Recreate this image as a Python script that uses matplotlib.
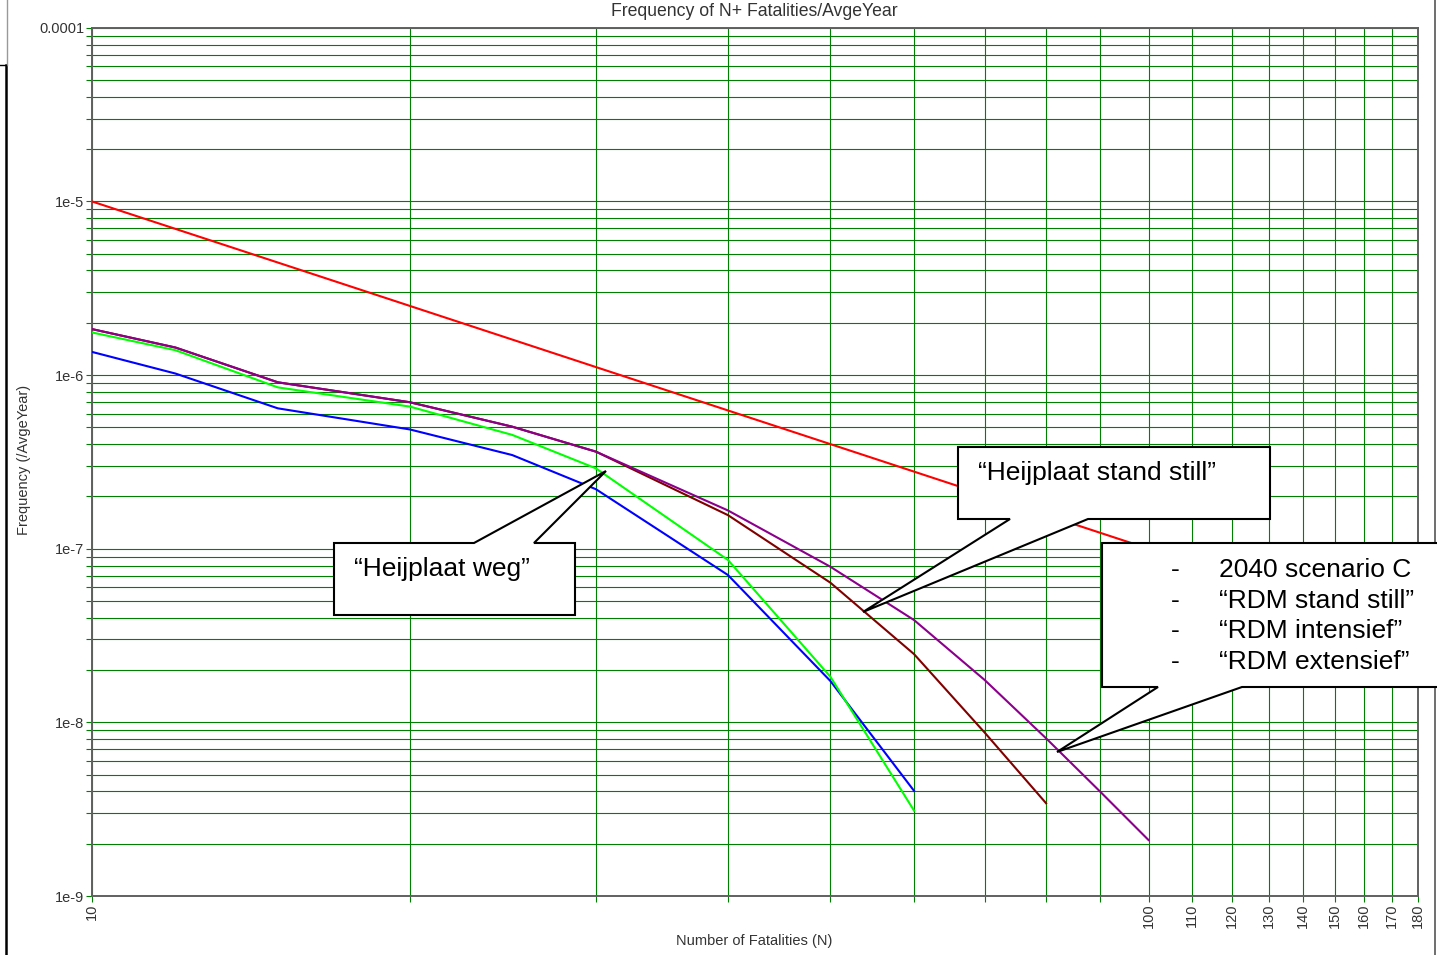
import numpy as np
import matplotlib
matplotlib.use("Agg")
import matplotlib.pyplot as plt
from matplotlib.patches import Polygon
from matplotlib.lines import Line2D
from matplotlib.transforms import Affine2D
from matplotlib.ticker import FixedLocator, NullFormatter, NullLocator, LogLocator

plt.rcParams['font.family'] = ['Liberation Sans', 'DejaVu Sans']

# ---- data -------------------------------------------------------------
# Number of fatalities (N) at which each FN curve is evaluated
n_base = [10, 12, 15, 20, 25, 30, 40, 50, 60]
n_heijplaat_weg = [10, 12, 15, 20, 25, 30, 40, 50, 60]
n_standstill = [10, 12, 15, 20, 25, 30, 40, 50, 60, 70, 80]
n_scenarios = [10, 12, 15, 20, 25, 30, 40, 50, 60, 70, 80, 90, 100]

# Cumulative frequency of N or more fatalities per average year
freq_base = [1.36e-6, 1.02e-6, 6.43e-7, 4.86e-7, 3.46e-7, 2.20e-7,
             7.05e-8, 1.73e-8, 4.03e-9]
freq_heijplaat_weg = [1.76e-6, 1.39e-6, 8.49e-7, 6.58e-7, 4.52e-7, 2.90e-7,
                      8.61e-8, 1.83e-8, 3.10e-9]
freq_heijplaat_standstill = [1.84e-6, 1.44e-6, 9.08e-7, 6.97e-7, 5.04e-7,
                             3.62e-7, 1.56e-7, 6.37e-8, 2.47e-8, 8.71e-9,
                             3.42e-9]
freq_scenarios = [1.84e-6, 1.44e-6, 9.08e-7, 6.97e-7, 5.04e-7, 3.62e-7,
                  1.66e-7, 7.87e-8, 3.88e-8, 1.75e-8, 8.09e-9, 3.99e-9,
                  2.10e-9]

# Group risk criterion: F = 1e-3 / N^2
n_criterion = [10, 180]
freq_criterion = [1e-3 / n ** 2 for n in n_criterion]

x_ticks = [10, 20, 30, 40, 50, 60, 70, 80, 90, 100, 110, 120, 130, 140,
           150, 160, 170, 180]
x_ticklabels = ['10', '', '', '', '', '', '', '', '', '100', '110', '120',
                '130', '140', '150', '160', '170', '180']
y_ticks = [1e-9, 1e-8, 1e-7, 1e-6, 1e-5, 1e-4]
y_ticklabels = ['1e-9', '1e-8', '1e-7', '1e-6', '1e-5', '0.0001']

legend_lines = ['2040 scenario C', '\u201cRDM stand still\u201d',
                '\u201cRDM intensief\u201d', '\u201cRDM extensief\u201d']

# ---- figure -----------------------------------------------------------
W, H = 1437, 955
fig = plt.figure(figsize=(W / 100, H / 100), dpi=100)
fig.patch.set_facecolor('white')

# pixel coordinates (origin top-left) -> figure
px = Affine2D().scale(1 / W, -1 / H).translate(0, 1) + fig.transFigure

ax = fig.add_axes([91.7 / W, 1 - 896 / H, (1418.3 - 91.7) / W, (896 - 27.7) / H])
ax.set_xscale('log')
ax.set_yscale('log')
ax.set_xlim(10, 180)
ax.set_ylim(1e-9, 1e-4)

grid_green = '#008000'
ax.xaxis.set_major_locator(FixedLocator(x_ticks))
ax.xaxis.set_minor_locator(NullLocator())
ax.set_xticklabels(x_ticklabels, rotation=90, fontsize=10.5, color='#333333')
ax.yaxis.set_major_locator(FixedLocator(y_ticks))
ax.set_yticklabels(y_ticklabels, fontsize=10.5, color='#333333')
ax.yaxis.set_minor_locator(LogLocator(base=10, subs=np.arange(2, 10), numticks=20))
ax.yaxis.set_minor_formatter(NullFormatter())

ax.tick_params(axis='both', which='both', direction='out', length=4,
               width=0.8, color=grid_green, pad=1.5)
ax.grid(True, which='major', axis='both', color=grid_green, lw=0.8)
ax.grid(True, which='minor', axis='y', color=grid_green, lw=0.8)
ax.set_axisbelow(True)

for sp in ax.spines.values():
    sp.set_color('#606060')
    sp.set_linewidth(1.4)

ax.plot(n_criterion, freq_criterion, color='#ff0000', lw=1.5, zorder=3)
ax.plot(n_base, freq_base, color='#0000ff', lw=1.5, zorder=3)
ax.plot(n_heijplaat_weg, freq_heijplaat_weg, color='#00ff00', lw=1.5, zorder=3)
ax.plot(n_standstill, freq_heijplaat_standstill, color='#800000', lw=1.5, zorder=3)
ax.plot(n_scenarios, freq_scenarios, color='#8b008b', lw=1.5, zorder=4)

# titles and axis labels
fig.text(754 / W, 1 - 12 / H, 'Frequency of N+ Fatalities/AvgeYear',
         ha='center', va='center', fontsize=12.7, color='#333333')
fig.text(754 / W, 1 - 941 / H, 'Number of Fatalities (N)',
         ha='center', va='center', fontsize=10.5, color='#333333')
fig.text(24 / W, 1 - 460 / H, 'Frequency (/AvgeYear)', rotation=90,
         ha='center', va='center', fontsize=10.5, color='#333333')

# page border fragments
for xs, ys, c, lw in [((6, 6), (65, 955), 'black', 1.8),
                      ((7, 7), (0, 65), '#999999', 1.0),
                      ((0, 6), (65, 65), 'black', 1.0),
                      ((1435, 1435), (0, 955), '#555555', 1.2)]:
    fig.add_artist(Line2D(xs, ys, transform=px, color=c, lw=lw))

# callouts
callouts = [
    [(334, 543), (474, 543), (606, 471), (534, 543), (575, 543),
     (575, 615), (334, 615)],
    [(958, 447), (1270, 447), (1270, 519), (1088, 519), (863, 612),
     (1010, 519), (958, 519)],
    [(1102, 543), (1445, 543), (1445, 687), (1242, 687), (1057, 752),
     (1158, 687), (1102, 687)],
]
for verts in callouts:
    fig.add_artist(Polygon(verts, closed=True, transform=px, facecolor='white',
                           edgecolor='black', lw=1.5, zorder=5))

fig.text(354 / W, 1 - 569 / H, '\u201cHeijplaat weg\u201d',
         ha='left', va='center', fontsize=19, zorder=6)
fig.text(978 / W, 1 - 473 / H, '\u201cHeijplaat stand still\u201d',
         ha='left', va='center', fontsize=19, zorder=6)
for i, line in enumerate(legend_lines):
    y = 570 + i * 30.7
    fig.text(1175 / W, 1 - y / H, '-', ha='center', va='center', fontsize=19, zorder=6)
    fig.text(1219 / W, 1 - y / H, line, ha='left', va='center', fontsize=19, zorder=6)

fig.savefig('out.png', dpi=100)
